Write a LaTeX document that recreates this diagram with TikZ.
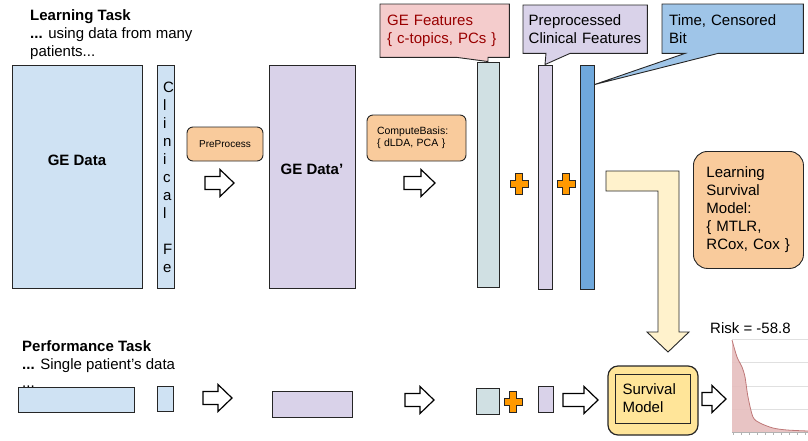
\documentclass[tikz,border=0pt]{standalone}
\usepackage{fontspec}
\setmainfont{Liberation Sans}
\usetikzlibrary{positioning,calc,backgrounds}
\definecolor{gedat}{RGB}{207,226,243}
\definecolor{lav}{RGB}{217,210,233}
\definecolor{feat}{RGB}{208,224,227}
\definecolor{timeb}{RGB}{111,168,220}
\definecolor{callb}{RGB}{159,197,232}
\definecolor{pinkc}{RGB}{244,204,204}
\definecolor{darkred}{RGB}{153,0,0}
\definecolor{peach}{RGB}{249,203,156}
\definecolor{plusor}{RGB}{255,153,0}
\definecolor{cream}{RGB}{255,242,204}
\definecolor{yel}{RGB}{255,229,153}
\definecolor{curvefill}{RGB}{230,190,190}
\definecolor{curveline}{RGB}{190,120,120}
\tikzstyle{box} = [draw=black!85, line width=0.9pt, inner sep=0pt]
\tikzstyle{txt} = [font=\fontsize{15}{18}\selectfont, align=left, inner sep=0pt]
\tikzstyle{boldtxt} = [txt, font=\fontsize{15}{18}\selectfont\bfseries]
\tikzstyle{calltxt} = [txt, anchor=north west, inner xsep=7pt]
\tikzset{
  pics/blockarrow/.style={code={
    \draw[black, line width=1.2pt, fill=white, line join=miter]
      (0,-6.5) -- ({#1-14},-6.5) -- ({#1-14},-13.5) -- (#1,0)
      -- ({#1-14},13.5) -- ({#1-14},6.5) -- (0,6.5) -- cycle;}},
  pics/plusmark/.style={code={
    \draw[box, fill=plusor]
      (-3.3,-10.5) -- (3.3,-10.5) -- (3.3,-3.3) -- (9,-3.3) -- (9,3.3) -- (3.3,3.3)
      -- (3.3,10.5) -- (-3.3,10.5) -- (-3.3,3.3) -- (-9,3.3) -- (-9,-3.3) -- (-3.3,-3.3) -- cycle;}}
}

\begin{document}
\begin{tikzpicture}[x=1pt, y=-1pt]
\useasboundingbox (0,0) rectangle (808,440);

% learning task, top row
\node[txt, anchor=north west] (learn) at (30,9.5) {\textbf{Learning Task}\\\textbf{...} using data from many\\patients...};
\node[box, fill=gedat, minimum width=130pt, minimum height=223pt] (gedata) at (77,176.5) {};
\node[boldtxt] (gelbl) at (77,160) {GE Data};
\node[box, fill=gedat, minimum width=17pt, minimum height=223pt] (clin) at (165.5,176.5) {};
\node[txt, anchor=north west] (clinlbl) at (163,82) {C\\l\\i\\n\\i\\c\\a\\l\\[18pt]F\\e};

\node[box, fill=peach, rounded corners=6pt, minimum width=76pt, minimum height=34pt, font=\fontsize{10}{12}\selectfont] (prep) at (225,144) {PreProcess};
\pic at (205,183) {blockarrow=29};

\node[box, fill=lav, minimum width=86pt, minimum height=223pt] (gedata2) at (312,176.5) {};
\node[boldtxt] (ge2lbl) at (312,169) {GE Data’};

\node[box, fill=peach, rounded corners=6pt, align=left, text width=79pt, inner xsep=10pt, minimum height=46pt, font=\fontsize{10.5}{12.5}\selectfont] (basis) at (416.5,138) {ComputeBasis:\\\{ dLDA, PCA \}};
\pic at (404,183) {blockarrow=31};

\node[box, fill=feat, minimum width=22pt, minimum height=225pt] (gefeat) at (488,174.5) {};
\pic at (519,184) {plusmark};
\node[box, fill=lav, minimum width=14pt, minimum height=224pt] (pcf) at (545,177) {};
\pic at (566,184) {plusmark};
\node[box, fill=timeb, minimum width=14pt, minimum height=224pt] (timebit) at (587,177) {};

% callouts
\node[calltxt, text=darkred, text width=115pt, minimum height=53pt] (gefcall) at (380,4) {GE Features\\\{ c-topics, PCs \}};
\node[calltxt, inner xsep=5.5pt, text width=113pt, minimum height=48pt] (pcfcall) at (523,5) {Preprocessed\\Clinical Features};
\node[calltxt, text width=127pt, minimum height=49pt] (timecall) at (662,4) {Time, Censored\\Bit};
\begin{scope}[on background layer]
\draw[box, fill=pinkc] (gefcall.north west) -- (gefcall.north east) -- (gefcall.south east)
  -- ($(gefcall.south west)+(108,0)$) -- (gefeat.north) -- ($(gefcall.south west)+(77,0)$) -- (gefcall.south west) -- cycle;
\draw[box, fill=lav] (pcfcall.north west) -- (pcfcall.north east) -- (pcfcall.south east)
  -- ($(pcfcall.south west)+(47,0)$) -- (pcf.north) -- ($(pcfcall.south west)+(23,0)$) -- (pcfcall.south west) -- cycle;
\draw[box, fill=callb] (timecall.north west) -- (timecall.north east) -- (timecall.south east)
  -- ($(timecall.south west)+(56,0)$) -- ($(timebit.north east)+(0,20)$) -- ($(timecall.south west)+(23,0)$) -- (timecall.south west) -- cycle;
\end{scope}

% learner
\draw[box, fill=cream] (606,171) -- (679,171) -- (679,332) -- (689,332) -- (668,352) -- (647,332) -- (658,332) -- (658,191) -- (606,191) -- cycle;
\node[box, fill=peach, rounded corners=14pt, txt, anchor=north west, text width=84pt, inner xsep=13pt, minimum height=117pt] (lsm) at (693,151) {Learning\\Survival\\Model:\\\{ MTLR,\\RCox, Cox \}};

% performance task, bottom row
\node[txt, anchor=north west] (perf) at (22,340.5) {\textbf{Performance Task}\\\textbf{...} Single patient's data\\...};
\node[box, fill=gedat, minimum width=116pt, minimum height=25pt] (bgedata) at (76,399.5) {};
\node[box, fill=gedat, minimum width=16pt, minimum height=25pt] (bclin) at (165,398.5) {};
\pic at (203,398) {blockarrow=29};
\node[box, fill=lav, minimum width=80pt, minimum height=26pt] (bgedata2) at (312,404) {};
\pic at (405,400) {blockarrow=29};
\node[box, fill=feat, minimum width=23pt, minimum height=26pt] (bgefeat) at (487.5,401) {};
\pic at (513,402) {plusmark};
\node[box, fill=lav, minimum width=15pt, minimum height=26pt] (bpcf) at (545.5,399) {};
\pic at (563,400) {blockarrow=35};
\node[box, fill=yel, line width=1.2pt, rounded corners=10pt, minimum width=90pt, minimum height=69pt] (survival) at (653,400.5) {};
\node[box, txt, fill=yel, text width=60pt, inner xsep=7.5pt, minimum height=49pt] (model) at (652.5,398.5) {Survival\\Model};
\pic at (702,399) {blockarrow=24};

% risk curve
\foreach \gy in {339,362,386,409}
  \draw[black!12] (732,\gy) -- (808,\gy);
\fill[curvefill, fill opacity=0.9] (732,432) -- plot[smooth] coordinates {(732,340) (737,357) (742,367) (745,377) (748,397) (753,417) (760,423) (773,428) (787,430) (808,431)} -- (808,432) -- cycle;
\draw[curveline, line width=0.8pt] plot[smooth] coordinates {(732,340) (737,357) (742,367) (745,377) (748,397) (753,417) (760,423) (773,428) (787,430) (808,431)};
\draw[black!30] (732,432) -- (808,432);
\foreach \i in {0,...,9}
  \draw[black!30] (733+8*\i,432) -- ++(0,3);
\node[txt, anchor=base west] (risk) at (710,333) {Risk = -58.8};
\end{tikzpicture}
\end{document}
